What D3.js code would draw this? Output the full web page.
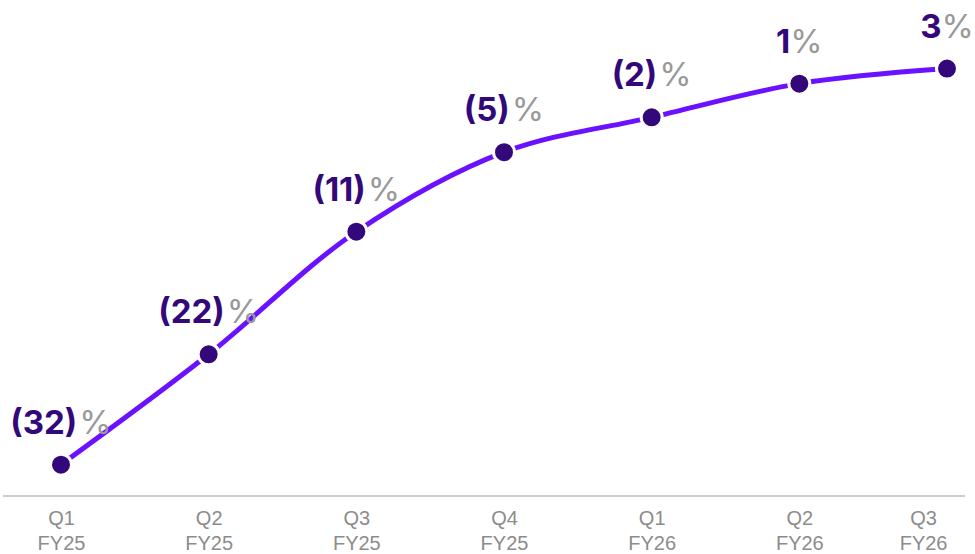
<!DOCTYPE html>
<html>
<head>
<meta charset="utf-8">
<script src="https://cdn.jsdelivr.net/npm/d3@7"></script>
<style>
  body { margin: 0; background: #fff; }
  svg { display: block; font-family: Inter, "Noto Sans", sans-serif; }
</style>
</head>
<body>
<div id="chart"></div>
<script>
// Quarters and YoY growth (%)
var quarters = ["Q1 FY25", "Q2 FY25", "Q3 FY25", "Q4 FY25", "Q1 FY26", "Q2 FY26", "Q3 FY26"];
var growth = [-31.5, -22.0, -11.45, -4.6, -1.6, 1.3, 2.6];

var width = 975, height = 554;
var baseY = 496;

var svg = d3.select("#chart")
  .append("svg")
  .attr("width", width)
  .attr("height", height);

var x = d3.scalePoint()
  .domain(quarters)
  .range([61, 947]);

var y = d3.scaleLinear()
  .domain([-34.2, 8.5])
  .range([baseY, 0]);

var data = quarters.map(function(q, i) {
  return { q: q, v: growth[i] };
});

// Baseline
svg.append("line")
  .attr("x1", 3)
  .attr("x2", 965)
  .attr("y1", baseY)
  .attr("y2", baseY)
  .attr("stroke", "#bdbdbd")
  .attr("stroke-width", 1.5);

// X axis labels (two lines each)
var xAxis = svg.append("g")
  .attr("transform", "translate(0," + (baseY + 29) + ")")
  .call(d3.axisBottom(x).tickSize(0).tickPadding(0));
xAxis.select(".domain").remove();

xAxis.selectAll(".tick text")
  .attr("fill", "#8c8c8c")
  .attr("font-size", 20)
  .attr("dy", 0)
  .attr("y", 0)
  .text(null)
  .each(function(d) {
    var parts = d.split(" ");
    var t = d3.select(this);
    t.append("tspan").attr("x", 0).attr("y", 0).text(parts[0]);
    t.append("tspan").attr("x", 0).attr("y", 25).text(parts[1]);
  });

// Keep the last tick label inside the chart
var lastTick = xAxis.selectAll(".tick text").filter(function(d, i) { return i === quarters.length - 1; });
lastTick.each(function() {
  var w = this.getBBox().width;
  d3.select(this).selectAll("tspan").attr("x", -w / 2);
});

// Line
var line = d3.line()
  .x(function(d) { return x(d.q); })
  .y(function(d) { return y(d.v); })
  .curve(d3.curveCatmullRom.alpha(0.5));

svg.append("path")
  .datum(data)
  .attr("fill", "none")
  .attr("stroke", "#6a12ff")
  .attr("stroke-width", 5)
  .attr("d", line);

// Dots
svg.selectAll(".dot")
  .data(data)
  .enter()
  .append("circle")
  .attr("class", "dot")
  .attr("cx", function(d) { return x(d.q); })
  .attr("cy", function(d) { return y(d.v); })
  .attr("r", 10.5)
  .attr("fill", "#33087a")
  .attr("stroke", "#fff")
  .attr("stroke-width", 3);

// Value labels
var labels = svg.selectAll(".val")
  .data(data)
  .enter()
  .append("text")
  .attr("class", "val")
  .attr("x", function(d) { return x(d.q); })
  .attr("y", function(d) { return y(d.v) - 31; })
  .attr("text-anchor", "middle")
  .attr("font-size", 33);

labels.append("tspan")
  .attr("font-weight", 700)
  .attr("fill", "#33087a")
  .text(function(d) {
    var n = Math.round(Math.abs(d.v));
    return d.v < 0 ? "(" + n + ")" : n;
  });

labels.append("tspan")
  .attr("dx", function(d) { return d.v < 0 ? 2 : 0; })
  .attr("font-weight", 400)
  .attr("fill", "#999999")
  .text("%");
</script>
</body>
</html>
